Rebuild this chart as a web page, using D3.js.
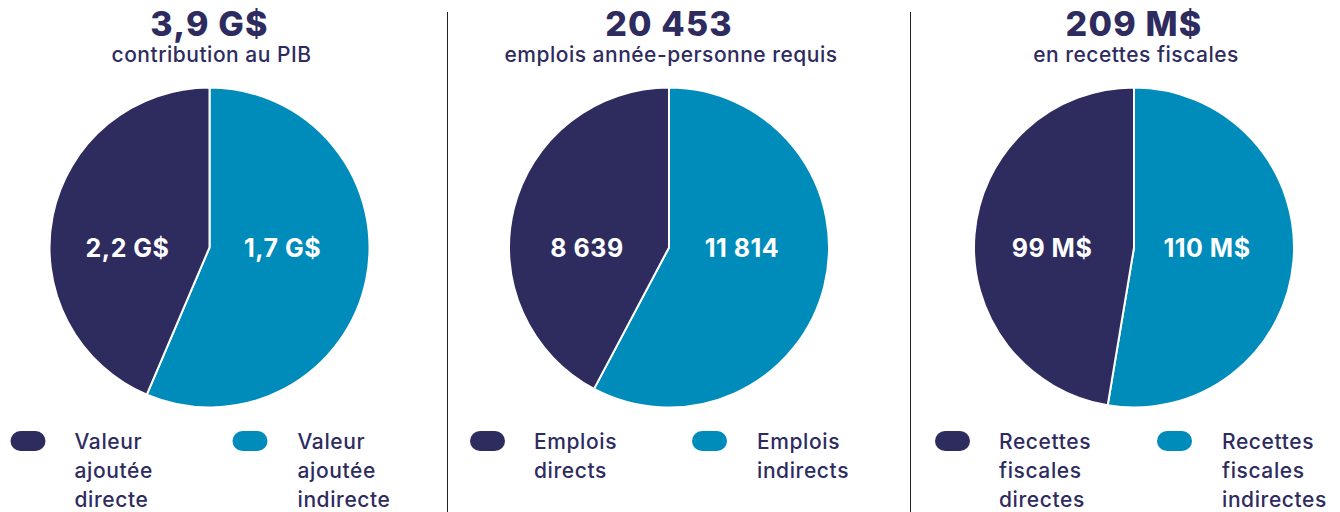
<!DOCTYPE html>
<html><head><meta charset="utf-8">
<script src="https://cdn.jsdelivr.net/npm/d3@7"></script>
<style>
html,body{margin:0;padding:0;background:#fff;}
svg{display:block;font-family:Inter,"Noto Sans",sans-serif;}
</style></head>
<body><svg id="chart" width="1340" height="512"></svg>
<script>
// Data
const totals = ["3,9 G$", "20 453", "209 M$"];
const subtitles = ["contribution au PIB", "emplois année-personne requis", "en recettes fiscales"];
// slice sizes as drawn in the reference
const directValues = [1.7, 8639, 99];
const indirectValues = [2.2, 11814, 110];
const directLabels = ["2,2 G$", "8 639", "99 M$"];
const indirectLabels = ["1,7 G$", "11 814", "110 M$"];
const directLegend = [["Valeur", "ajoutée", "directe"], ["Emplois", "directs"], ["Recettes", "fiscales", "directes"]];
const indirectLegend = [["Valeur", "ajoutée", "indirecte"], ["Emplois", "indirects"], ["Recettes", "fiscales", "indirectes"]];
const panels = [0, 1, 2];

const DARK = "#2e2b5f", LIGHT = "#008cba";
const svg = d3.select("#chart");
const x = d3.scaleOrdinal().domain(panels).range([209.5, 669, 1134]);
const cy = 247.5, R = 160;

// dividers
[447.5, 910.5].forEach(xx => {
  svg.append("line").attr("x1", xx).attr("x2", xx).attr("y1", 12).attr("y2", 512)
    .attr("stroke", "#222").attr("stroke-width", 1);
});

const pie = d3.pie().sort(null).value(d => d.v);
const arc = d3.arc().innerRadius(0).outerRadius(R);

panels.forEach(i => {
  const cx = x(i);
  const g = svg.append("g");
  g.append("text").attr("x", cx).attr("y", 36).attr("text-anchor", "middle")
    .attr("font-size", 34).attr("font-weight", 800).attr("letter-spacing", 1.2).attr("fill", DARK)
    .text(totals[i]);
  g.append("text").attr("x", cx + 2).attr("y", 62).attr("text-anchor", "middle")
    .attr("font-size", 21).attr("font-weight", 500).attr("letter-spacing", 0.5)
    .attr("fill", DARK).text(subtitles[i]);

  const data = [{v: indirectValues[i], c: LIGHT}, {v: directValues[i], c: DARK}];
  const pg = g.append("g").attr("transform", `translate(${cx},${cy})`);
  pg.selectAll("path").data(pie(data)).join("path")
    .attr("d", arc).attr("fill", d => d.data.c)
    .attr("stroke", "#fff").attr("stroke-width", 2).attr("stroke-linejoin", "round");

  pg.append("text").attr("x", -82).attr("y", 9).attr("text-anchor", "middle")
    .attr("font-size", 25).attr("font-weight", 700).attr("letter-spacing", 0.5)
    .attr("fill", "#fff").text(directLabels[i]);
  pg.append("text").attr("x", 73).attr("y", 9).attr("text-anchor", "middle")
    .attr("font-size", 25).attr("font-weight", 700).attr("letter-spacing", 0.5)
    .attr("fill", "#fff").text(indirectLabels[i]);

  // legend
  const leg = [[directLegend[i], DARK, -199, -135], [indirectLegend[i], LIGHT, 23, 88]];
  leg.forEach(([lines, col, sx, tx]) => {
    g.append("rect").attr("x", cx + sx).attr("y", 431).attr("width", 35).attr("height", 20)
      .attr("rx", 10).attr("fill", col);
    const t = g.append("text").attr("x", cx + tx).attr("y", 449)
      .attr("font-size", 21).attr("font-weight", 500).attr("letter-spacing", 0.6).attr("fill", DARK);
    lines.forEach((l, k) => t.append("tspan").attr("x", cx + tx).attr("y", 449 + k * 29).text(l));
  });
});
</script></body></html>
